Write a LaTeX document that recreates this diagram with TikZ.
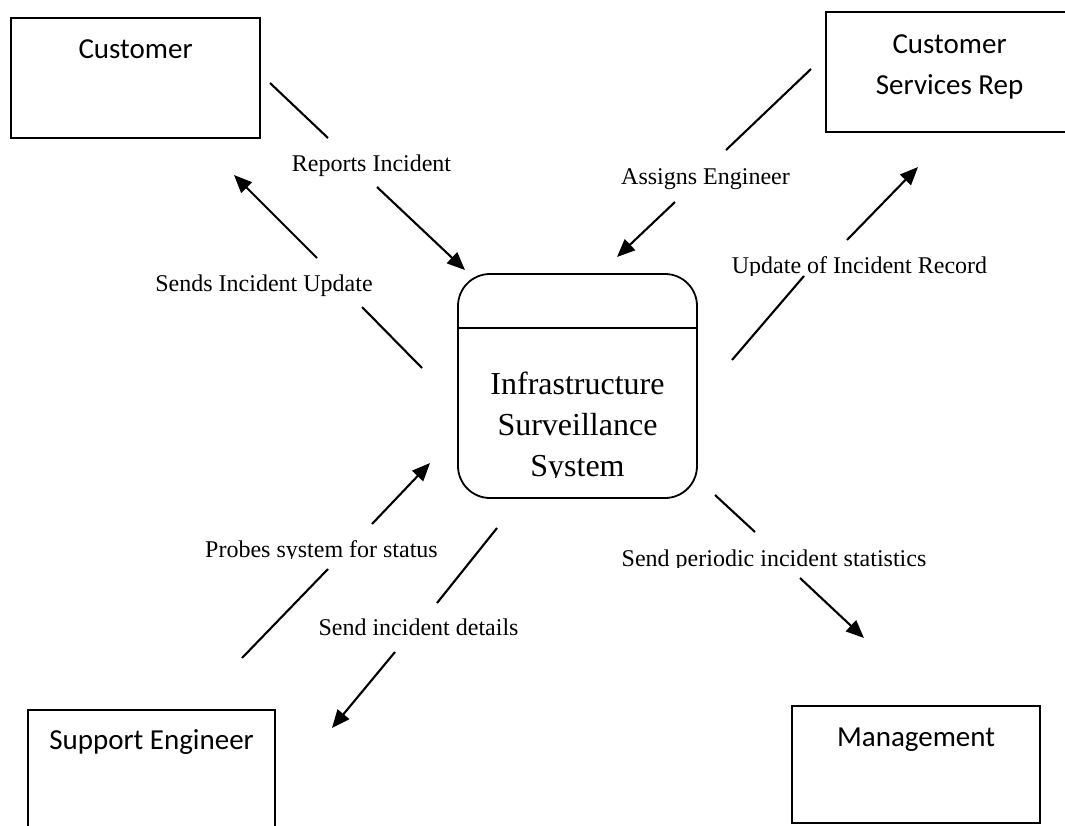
\documentclass[tikz,border=0pt]{standalone}
\usepackage{fontspec}
\setmainfont{Liberation Serif}
\newfontfamily\entityfont{Carlito}
\usetikzlibrary{arrows.meta}

\begin{document}
\begin{tikzpicture}[x=1pt,y=-1pt,
  entity/.style={draw, line width=2.2pt, rectangle, anchor=north west,
    inner xsep=0pt, inner ysep=0pt, font=\entityfont\fontsize{29}{41}\selectfont},
  process/.style={draw, line width=1.8pt, rectangle, rounded corners=32pt,
    minimum width=239pt, minimum height=224pt, inner sep=0pt},
  proctext/.style={anchor=base, inner sep=0pt, font=\fontsize{32}{41}\selectfont},
  flowlabel/.style={anchor=base, inner sep=0pt, font=\fontsize{24}{28}\selectfont},
  flow/.style={line width=2.1pt},
  flowtip/.style={flow, -{Triangle[length=18pt,width=15pt]}},
]
% page area
\clip (0,0) rectangle (1065,825);

% external entities
\node[entity, minimum width=249pt, text height=40pt, text depth=80pt]
  (cust) at (10,17) {Customer};
\node[entity, minimum width=247pt, text height=41pt, text depth=79pt]
  (csr) at (825,11) {\begin{tabular}[t]{@{}c@{}}Customer\\Services Rep\end{tabular}};
\node[entity, minimum width=247pt, text height=39pt, text depth=110pt]
  (eng) at (27,709) {Support Engineer};
\node[entity, minimum width=248pt, text height=40pt, text depth=77pt]
  (mgmt) at (791,705) {Management};

% the system process
\node[process] (sys) at (577.5,386) {};
\coordinate (divy) at (0,328);
\draw[line width=1.8pt] (sys.west |- divy) -- (sys.east |- divy);
\begin{scope}
  \clip (460,340) rectangle (695,477.5);
  \node[proctext] (systxt) at (577.5,394.5)
    {\begin{tabular}[t]{@{}c@{}}Infrastructure\\Surveillance\\System\end{tabular}};
\end{scope}

% connector end points
\coordinate (r1) at (270,83);  \coordinate (r2) at (328,138);
\coordinate (r3) at (377,187); \coordinate (r4) at (465,270);
\coordinate (s1) at (422,368); \coordinate (s2) at (362,307);
\coordinate (s3) at (317,258); \coordinate (s4) at (234,175);
\coordinate (a1) at (811,69);  \coordinate (a2) at (726,150);
\coordinate (a3) at (675,202); \coordinate (a4) at (617,257);
\coordinate (u1) at (732,360); \coordinate (u2) at (804,276);
\coordinate (u3) at (847,240); \coordinate (u4) at (918,167);
\coordinate (p1) at (242,658); \coordinate (p2) at (328,569);
\coordinate (p3) at (372,524); \coordinate (p4) at (430,463);
\coordinate (d1) at (497,528); \coordinate (d2) at (437,603);
\coordinate (d3) at (395,652); \coordinate (d4) at (332,728);
\coordinate (m1) at (715,495); \coordinate (m2) at (755,532);
\coordinate (m3) at (800,578); \coordinate (m4) at (864,638);

% data flows
\draw[flow] (r1) -- (r2); \draw[flowtip] (r3) -- (r4);
\draw[flow] (s1) -- (s2); \draw[flowtip] (s3) -- (s4);
\draw[flow] (a1) -- (a2); \draw[flowtip] (a3) -- (a4);
\draw[flow] (u1) -- (u2); \draw[flowtip] (u3) -- (u4);
\draw[flow] (p1) -- (p2); \draw[flowtip] (p3) -- (p4);
\draw[flow] (d1) -- (d2); \draw[flowtip] (d3) -- (d4);
\draw[flow] (m1) -- (m2); \draw[flowtip] (m3) -- (m4);

% flow labels
\node[flowlabel] (lrep) at (371.5,171) {Reports Incident};
\node[flowlabel] (lsend) at (264,291) {Sends Incident Update};
\node[flowlabel] (lassign) at (705.5,184) {Assigns Engineer};
\node[flowlabel] (ldet) at (418.5,635.5) {Send incident details};
\begin{scope}
  \clip (700,240) rectangle (1020,275.5);
  \node[flowlabel] (lupd) at (859.5,273) {Update of Incident Record};
\end{scope}
\begin{scope}
  \clip (190,525) rectangle (460,558.5);
  \node[flowlabel] (lprobe) at (321.5,557.5) {Probes system for status};
\end{scope}
\begin{scope}
  \clip (600,535) rectangle (950,567.5);
  \node[flowlabel] (lstat) at (774,566) {Send periodic incident statistics};
\end{scope}
\end{tikzpicture}
\end{document}
